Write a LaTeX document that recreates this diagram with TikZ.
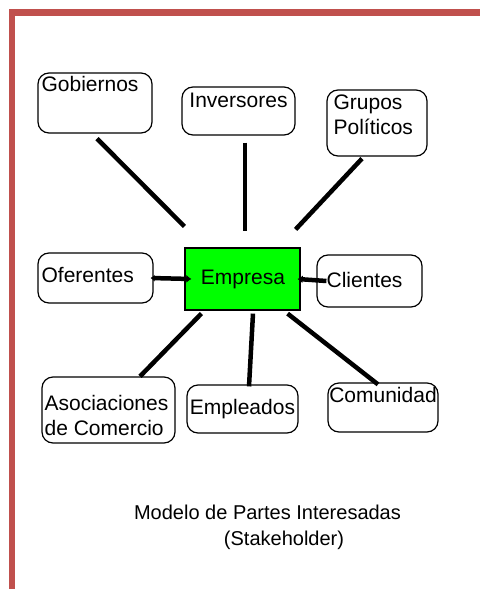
\documentclass[tikz,border=0pt]{standalone}
\usepackage{fontspec}
\setmainfont{Liberation Sans}
\usetikzlibrary{arrows.meta}
\definecolor{frame}{RGB}{192,80,77}
\definecolor{empgreen}{RGB}{0,255,0}

\begin{document}
\begin{tikzpicture}
[x=1pt,y=-1pt]
\tikzset{box/.style={draw,rounded corners=11pt,line width=1.2pt,inner sep=0pt},
  txt/.style={font=\fontsize{21}{25}\selectfont,inner sep=2pt,align=left},
  link/.style={line width=4.5pt},
  tip/.style={-{Latex[length=5pt,width=8pt]}},
  tips/.style={{Latex[length=4pt,width=7pt]}-{Latex[length=5pt,width=8pt]}}}
\useasboundingbox (0,0) rectangle (480,589);

% red frame
\fill[frame] (9,9) rectangle (480,16);
\fill[frame] (9,9) rectangle (15,589);

% boxes
\node [draw,line width=1.2pt,fill=empgreen,minimum width=115pt,minimum height=62pt,inner sep=0pt] (emp) at (242.5,279) {};
\node [box,minimum width=114pt,minimum height=60pt] (gob) at (95,103) {};
\node [box,minimum width=113pt,minimum height=48pt] (inv) at (238.5,111) {};
\node [box,minimum width=100pt,minimum height=66pt] (gru) at (377,123) {};
\node [box,minimum width=115pt,minimum height=50pt] (ofe) at (95.5,278) {};
\node [box,minimum width=105pt,minimum height=52pt] (cli) at (369.5,281) {};
\node [box,minimum width=133pt,minimum height=66pt] (aso) at (108.5,410) {};
\node [box,minimum width=111pt,minimum height=48pt] (empl) at (242.5,409) {};
\node [box,minimum width=110pt,minimum height=49pt] (com) at (383,407.5) {};

% labels
\node [txt] (tEmp) at (243,279) {Empresa};
\node [txt,anchor=north west] (tGob) at ([xshift=2pt,yshift=-2pt]gob.north west) {Gobiernos};
\node [txt,anchor=north] (tInv) at ([yshift=-4pt]inv.north) {Inversores};
\node [txt,anchor=north west] (tGru) at ([xshift=5pt,yshift=-3pt]gru.north west) {Grupos\\Políticos};
\node [txt,anchor=west] (tOfe) at ([xshift=2pt,yshift=3pt]ofe.west) {Oferentes};
\node [txt,anchor=west] (tCli) at ([xshift=8pt,yshift=1pt]cli.west) {Clientes};
\node [txt,anchor=west] (tAso) at ([xshift=1pt,yshift=-5pt]aso.west) {Asociaciones\\de Comercio};
\node [txt] (tEmpl) at (empl.center) {Empleados};
\node [txt,anchor=north] (tCom) at ([xshift=0pt,yshift=-3pt]com.north) {Comunidad};

\node [txt,font=\fontsize{20}{24}\selectfont] (cap1) at (267.5,512) {Modelo de Partes Interesadas};
\node [txt,font=\fontsize{20}{24}\selectfont] (cap2) at (284,540) {(Stakeholder)};

% connectors
\draw[link] ([xshift=2pt,yshift=-5pt]gob.south) -- ([yshift=21pt]emp.north west);
\draw[link] ([xshift=6.5pt,yshift=-7pt]inv.south) -- ([xshift=2.5pt,yshift=16pt]emp.north);
\draw[link] ([xshift=-15pt,yshift=-2pt]gru.south) -- ([xshift=-5pt,yshift=18pt]emp.north east);
\draw[link,tips] ([xshift=-3pt]ofe.east) -- ([xshift=7pt]emp.west);
\draw[link,tip] ([xshift=10pt]cli.west) -- ([xshift=-3pt]emp.east);
\draw[link] ([xshift=17pt,yshift=-3pt]emp.south west) -- ([xshift=31.5pt]aso.north);
\draw[link] ([xshift=10.5pt,yshift=-3pt]emp.south) -- ([xshift=6.5pt,yshift=-2pt]empl.north);
\draw[link] ([xshift=-13pt,yshift=-3pt]emp.south east) -- ([xshift=-5pt,yshift=-2pt]com.north);

\end{tikzpicture}
\end{document}
